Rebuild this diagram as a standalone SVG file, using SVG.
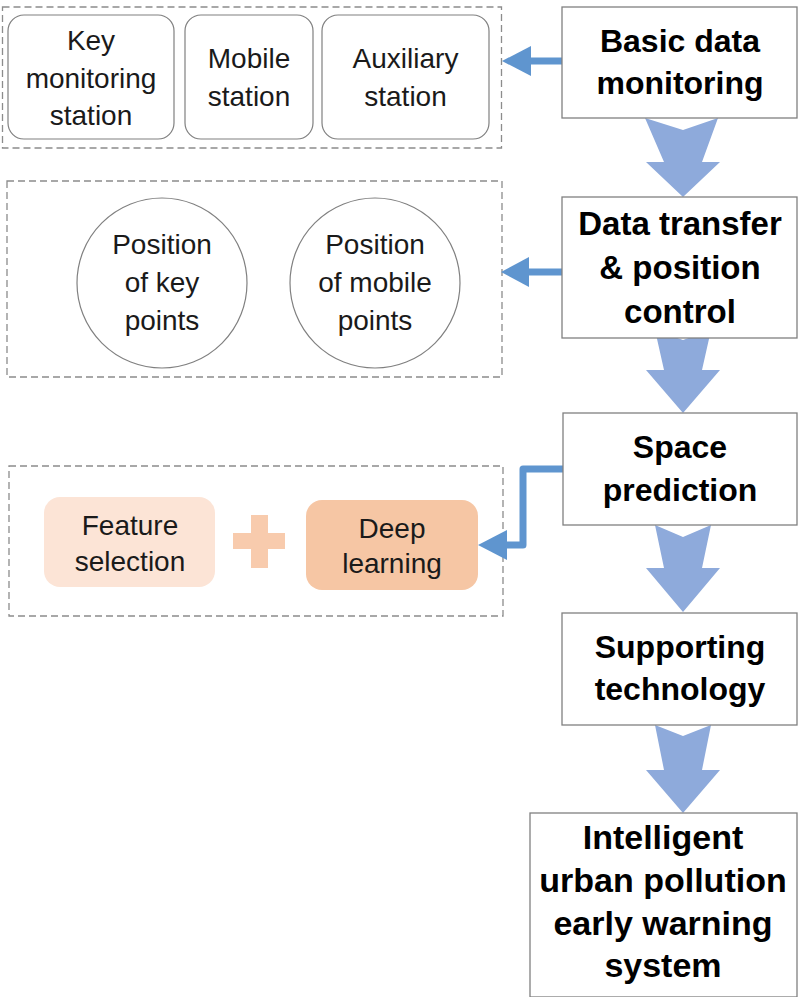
<svg xmlns="http://www.w3.org/2000/svg" width="799" height="997" viewBox="0 0 799 997">
<style>
.dash{fill:none;stroke:#8c8c8c;stroke-width:1.3;stroke-dasharray:7,4}
.main{fill:#ffffff;stroke:#808080;stroke-width:1.3}
.rbox{fill:#ffffff;stroke:#808080;stroke-width:1.2}
.circ{fill:#ffffff;stroke:#808080;stroke-width:1.2}
.big{fill:#8eaadb}
.side{fill:none;stroke:#5f95cf;stroke-width:7;stroke-linecap:round;stroke-linejoin:round}
.head{fill:#5f95cf}
.b{font-family:"Liberation Sans",Arial,sans-serif;font-weight:bold;font-size:32px;fill:#000;text-anchor:middle}
.r{font-family:"Liberation Sans",Arial,sans-serif;font-size:28px;fill:#1a1a1a;text-anchor:middle}
</style>
<rect width="799" height="997" fill="#ffffff"/>
<g id="connectors">
<polygon class="big" points="645,118 683,130 718,118 702,162 720,162 683,197 646,162 664,162"/>
<polygon class="big" points="655,330 683,340 711,330 702,370 720,370 683,413 646,370 664,370"/>
<polygon class="big" points="655,525 683,537 711,525 702,568 720,568 683,612 646,568 664,568"/>
<polygon class="big" points="655,725 683,736 711,725 702,770 720,770 683,813 646,770 664,770"/>
</g>
<g id="group-stations">
<rect class="dash" x="2.5" y="7" width="499" height="141"/>
</g>
<g id="group-positions">
<rect class="dash" x="7" y="181" width="495" height="196"/>
</g>
<g id="group-methods">
<rect class="dash" x="9" y="466" width="494" height="150"/>
</g>
<g id="side-connectors">
<line class="side" x1="562" y1="61" x2="528" y2="61"/>
<polygon class="head" points="502,61 531,46 531,76"/>
<line class="side" x1="562" y1="272" x2="526" y2="272"/>
<polygon class="head" points="501,272 529,257 529,287"/>
<path class="side" d="M563,469 H523 V545 H503"/>
<polygon class="head" points="478,545 507,530 507,560"/>
</g>
<g id="node-basic">
<rect class="main" x="562" y="7" width="235" height="111"/>
<text class="b" x="680" y="52">Basic data</text>
<text class="b" x="680" y="94">monitoring</text>
</g>
<g id="node-transfer">
<rect class="main" x="562" y="197" width="235" height="141"/>
<text class="b" x="680" y="235" style="font-size:33px">Data transfer</text>
<text class="b" x="680" y="279" style="font-size:33px">&amp; position</text>
<text class="b" x="680" y="323" style="font-size:33px">control</text>
</g>
<g id="node-space">
<rect class="main" x="563" y="413" width="234" height="112"/>
<text class="b" x="680" y="458">Space</text>
<text class="b" x="680" y="501">prediction</text>
</g>
<g id="node-supporting">
<rect class="main" x="562" y="613" width="235" height="112"/>
<text class="b" x="680" y="658">Supporting</text>
<text class="b" x="680" y="700">technology</text>
</g>
<g id="node-system">
<rect class="main" x="530" y="813" width="267" height="184"/>
<text class="b" x="663" y="849" style="font-size:34px">Intelligent</text>
<text class="b" x="663" y="892" style="font-size:34px">urban pollution</text>
<text class="b" x="663" y="935" style="font-size:34px">early warning</text>
<text class="b" x="663" y="977" style="font-size:34px">system</text>
</g>
<g id="node-key-station">
<rect class="rbox" x="8" y="15" width="166" height="124" rx="16"/>
<text class="r" x="91" y="50">Key</text>
<text class="r" x="91" y="88">monitoring</text>
<text class="r" x="91" y="125">station</text>
</g>
<g id="node-mobile-station">
<rect class="rbox" x="185" y="15" width="128" height="124" rx="16"/>
<text class="r" x="249" y="68">Mobile</text>
<text class="r" x="249" y="106">station</text>
</g>
<g id="node-aux-station">
<rect class="rbox" x="322" y="15" width="167" height="124" rx="16"/>
<text class="r" x="405.5" y="68">Auxiliary</text>
<text class="r" x="405.5" y="106">station</text>
</g>
<g id="node-key-points">
<circle class="circ" cx="162" cy="283" r="85"/>
<text class="r" x="162" y="254">Position</text>
<text class="r" x="162" y="292">of key</text>
<text class="r" x="162" y="330">points</text>
</g>
<g id="node-mobile-points">
<circle class="circ" cx="375" cy="283" r="85"/>
<text class="r" x="375" y="254">Position</text>
<text class="r" x="375" y="292">of mobile</text>
<text class="r" x="375" y="330">points</text>
</g>
<g id="node-feature">
<rect x="44" y="497" width="171" height="90" rx="16" fill="#fce4d6"/>
<text class="r" x="130" y="535">Feature</text>
<text class="r" x="130" y="571">selection</text>
</g>
<g id="node-plus">
<rect x="233" y="533" width="52" height="16" fill="#f8cbad"/>
<rect x="251" y="515" width="17" height="53" fill="#f8cbad"/>
</g>
<g id="node-deep">
<rect x="306" y="500" width="172" height="90" rx="16" fill="#f6c6a4"/>
<text class="r" x="392" y="538">Deep</text>
<text class="r" x="392" y="573">learning</text>
</g>
</svg>
